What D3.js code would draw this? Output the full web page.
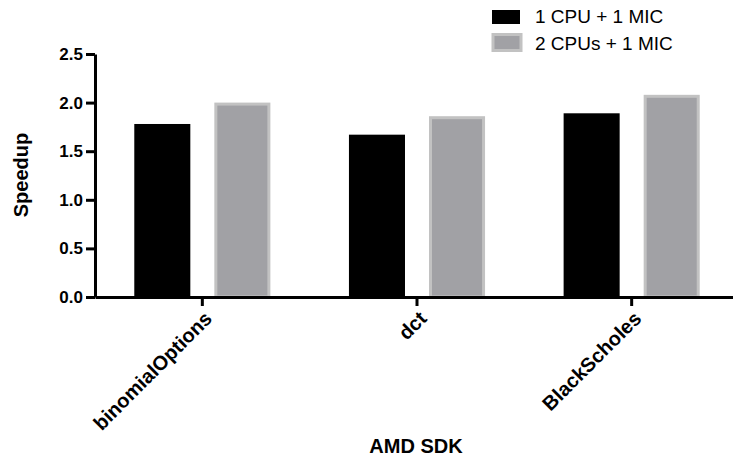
<!DOCTYPE html>
<html>
<head>
<meta charset="utf-8">
<script src="https://cdn.jsdelivr.net/npm/d3@7"></script>
<style>
	body { margin: 0; background: #fff; }
	svg { display: block; font-family: "Liberation Sans", Arial, sans-serif; }
	.axis path, .axis line { stroke: #000; stroke-width: 3; }
	.axis text { font-size: 17px; font-weight: bold; fill: #000; }
</style>
</head>
<body>
<svg width="733" height="461"></svg>
<script>
const categories = ['binomialOptions', 'dct', 'BlackScholes'];
const series = ['1 CPU + 1 MIC', '2 CPUs + 1 MIC'];
const cpu1_mic1 = [1.78, 1.67, 1.89];
const cpu2_mic1 = [2.0, 1.86, 2.08];
const y_ticks = [0, 0.5, 1.0, 1.5, 2.0, 2.5];
const colors = ['#000000', '#a1a1a5'];
const borders = ['#000000', '#c2c2c2'];

var svg = d3.select("svg");

var x0 = d3.scaleBand().domain(categories).range([95, 739]).paddingInner(0.366).paddingOuter(0.183);
var x1 = d3.scaleBand().domain(series).range([0, x0.bandwidth()]).paddingInner(0.3);
var y = d3.scaleLinear().domain([0, 2.5]).range([297, 54]);

var rows = categories.map(function(c, i) {
	return {cat: c, values: [cpu1_mic1[i], cpu2_mic1[i]]};
});

// bars
var groups = svg.append("g").selectAll("g")
	.data(rows)
	.enter()
	.append("g")
	.attr("transform", function(d) { return "translate(" + x0(d.cat) + ",0)"; });

groups.selectAll("rect")
	.data(function(d) { return d.values.map(function(v, j) { return {s: series[j], v: v, j: j}; }); })
	.enter()
	.append("rect")
	.attr("x", function(d) { return x1(d.s) + (d.j ? 1.5 : 0); })
	.attr("y", function(d) { return y(d.v) + (d.j ? 1.5 : 0); })
	.attr("width", function(d) { return x1.bandwidth() - (d.j ? 3 : 0); })
	.attr("height", function(d) { return y(0) - y(d.v) - (d.j ? 1.5 : 0); })
	.style("fill", function(d) { return colors[d.j]; })
	.style("stroke", function(d) { return d.j ? borders[d.j] : "none"; })
	.style("stroke-width", 3);

// y axis
var yAxis = svg.append("g")
	.attr("class", "axis")
	.attr("transform", "translate(95,0)")
	.call(d3.axisLeft(y).tickValues(y_ticks).tickFormat(d3.format(".1f")).tickSize(9).tickSizeOuter(0).tickPadding(3));

// x axis
var xAxis = svg.append("g")
	.attr("class", "axis")
	.attr("transform", "translate(0,297)")
	.call(d3.axisBottom(x0).tickSize(9).tickSizeOuter(0));

xAxis.selectAll("text")
	.style("font-size", "20px")
	.attr("text-anchor", "end")
	.attr("dy", "0.7em")
	.attr("transform", "translate(1,13) rotate(-45)")
	.attr("y", 0);

// axis titles
svg.append("text")
	.attr("transform", "translate(28,175) rotate(-90)")
	.attr("text-anchor", "middle")
	.style("font-size", "20px")
	.style("font-weight", "bold")
	.text("Speedup");

svg.append("text")
	.attr("x", 416)
	.attr("y", 453)
	.attr("text-anchor", "middle")
	.style("font-size", "20px")
	.style("font-weight", "bold")
	.text("AMD SDK");

// legend
var legend = svg.append("g").selectAll("g")
	.data(series)
	.enter()
	.append("g")
	.attr("transform", function(d, i) { return "translate(492," + (10 + i * 25) + ")"; });

legend.append("rect")
	.attr("x", function(d, i) { return i ? 1 : 0; })
	.attr("y", function(d, i) { return i ? -0.5 : 0; })
	.attr("width", 28)
	.attr("height", function(d, i) { return i ? 16 : 14; })
	.style("fill", function(d, i) { return colors[i]; })
	.style("stroke", function(d, i) { return i ? borders[i] : "none"; })
	.style("stroke-width", 3);

legend.append("text")
	.attr("x", 43)
	.attr("y", function(d, i) { return i ? 14.5 : 13; })
	.style("font-size", "19px")
	.text(function(d) { return d; });
</script>
</body>
</html>
